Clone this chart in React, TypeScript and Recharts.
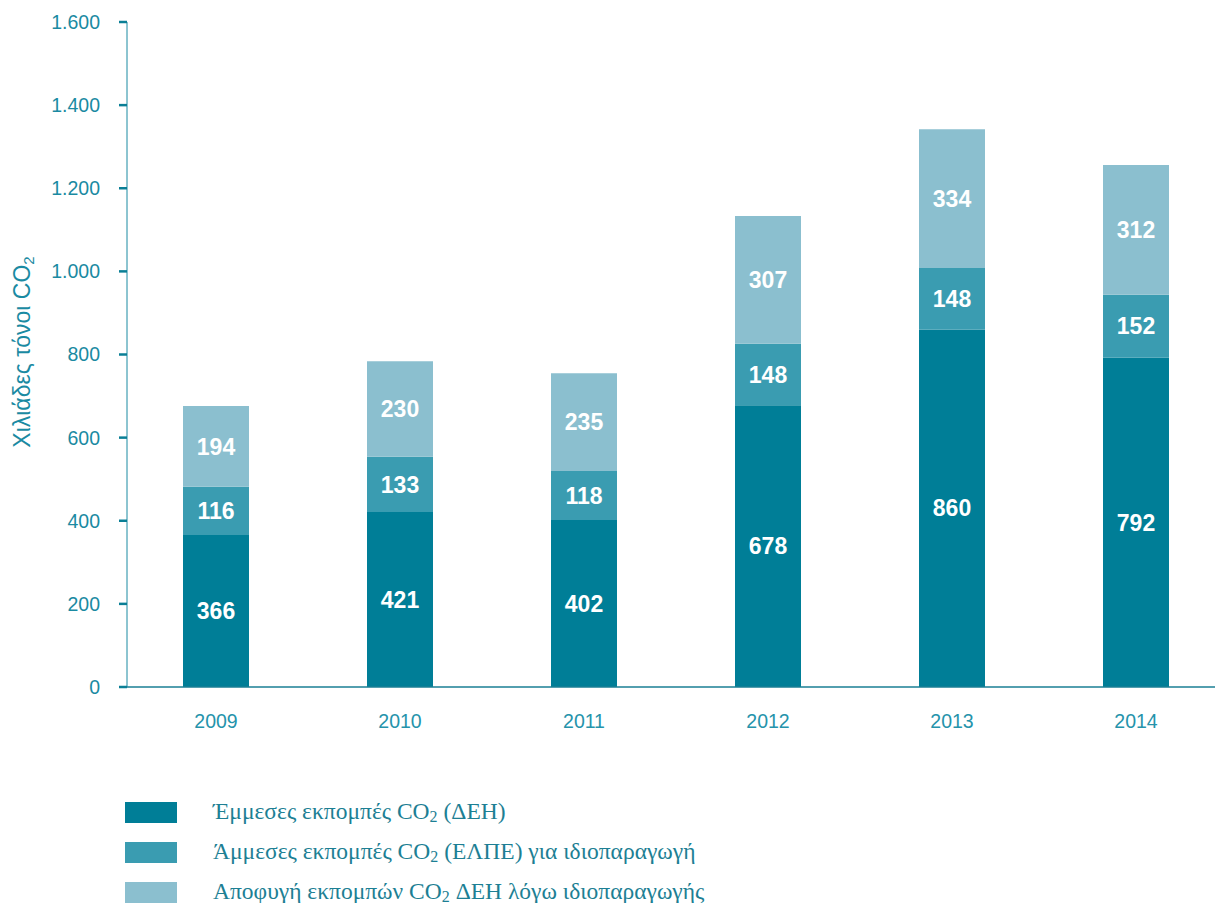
import React from 'react';
import { BarChart, Bar, XAxis, YAxis, LabelList, Legend } from 'recharts';

const years = ['2009', '2010', '2011', '2012', '2013', '2014'];
const indirectDEH = [366, 421, 402, 678, 860, 792];
const directELPE = [116, 133, 118, 148, 148, 152];
const avoidedDEH = [194, 230, 235, 307, 334, 312];
const yTicks = [0, 200, 400, 600, 800, 1000, 1200, 1400, 1600];

const seriesNames = [
  { pre: 'Έμμεσες εκπομπές CO', post: ' (ΔΕΗ)' },
  { pre: 'Άμμεσες εκπομπές CO', post: ' (ΕΛΠΕ) για ιδιοπαραγωγή' },
  { pre: 'Αποφυγή εκπομπών CO', post: ' ΔΕΗ λόγω ιδιοπαραγωγής' },
];
const colors = ['#007e97', '#3a9cb1', '#8bbfcf'];

const data = years.map((y, i) => ({
  year: y,
  a: indirectDEH[i],
  b: directELPE[i],
  c: avoidedDEH[i],
}));

const axisColor = '#1a8aa2';
const sans = 'Helvetica, Arial, "Liberation Sans", sans-serif';
const serif = '"Liberation Serif", "Times New Roman", serif';

const fmt = (v: number) => v.toLocaleString('de-DE');

const YLabel = (props: any) => {
  const x = 22;
  const y = 352;
  return (
    <text
      x={x}
      y={y}
      transform={`rotate(-90 ${x} ${y})`}
      textAnchor="middle"
      dominantBaseline="central"
      fill={axisColor}
      fontFamily={sans}
      fontSize={23}
    >
      <tspan>Χιλιάδες τόνοι CO</tspan>
      <tspan fontSize={15} dy={6}>2</tspan>
    </text>
  );
};

const LegendContent = () => (
  <div style={{ height: 130, position: 'relative' }}>
    {seriesNames.map((s, i) => (
      <div
        key={i}
        style={{
          position: 'absolute',
          left: 125,
          top: 28 + i * 40,
          height: 22,
          display: 'flex',
          alignItems: 'center',
        }}
      >
        <div style={{ width: 52, height: 21, background: colors[i] }} />
        <span
          style={{
            marginLeft: 36,
            fontFamily: serif,
            fontSize: 23.5,
            color: '#1d7f94',
            whiteSpace: 'nowrap',
          }}
        >
          {s.pre}
          <sub style={{ fontSize: 16, verticalAlign: '-3px' }}>2</sub>
          {s.post}
        </span>
      </div>
    ))}
  </div>
);

const labelStyle = {
  fill: '#ffffff',
  fontFamily: sans,
  fontWeight: 700,
  fontSize: 23,
};

export default function App() {
  return (
    <div style={{ position: 'absolute', left: 0, top: 0, width: 1215, height: 903, background: '#fff' }}>
      <BarChart
        width={1215}
        height={903}
        data={data}
        margin={{ top: 22, right: 0, left: 0, bottom: 0 }}
        barSize={66}
      >
        <XAxis
          dataKey="year"
          tickLine={false}
          axisLine={{ stroke: '#1a7f94', strokeWidth: 1.5 }}
          tick={{ fill: '#2593ab', fontSize: 19.5, fontFamily: sans }}
          tickMargin={21}
          height={86}
          padding={{ left: -3, right: -13 }}
          interval={0}
        />
        <YAxis
          width={127}
          domain={[0, 1600]}
          ticks={yTicks}
          interval={0}
          tickFormatter={fmt}
          tickSize={8}
          tickMargin={19}
          tickLine={{ stroke: '#0a7f96', strokeWidth: 2.5 }}
          axisLine={{ stroke: '#1a8aa2', strokeWidth: 1 }}
          tick={{ fill: axisColor, fontSize: 19.5, fontFamily: sans }}
          label={<YLabel />}
        />
        <Legend verticalAlign="bottom" content={<LegendContent />} />
        <Bar dataKey="a" stackId="s" fill={colors[0]} isAnimationActive={false}>
          <LabelList dataKey="a" position="center" style={labelStyle} />
        </Bar>
        <Bar dataKey="b" stackId="s" fill={colors[1]} isAnimationActive={false}>
          <LabelList dataKey="b" position="center" style={labelStyle} />
        </Bar>
        <Bar dataKey="c" stackId="s" fill={colors[2]} isAnimationActive={false}>
          <LabelList dataKey="c" position="center" style={labelStyle} />
        </Bar>
      </BarChart>
    </div>
  );
}
